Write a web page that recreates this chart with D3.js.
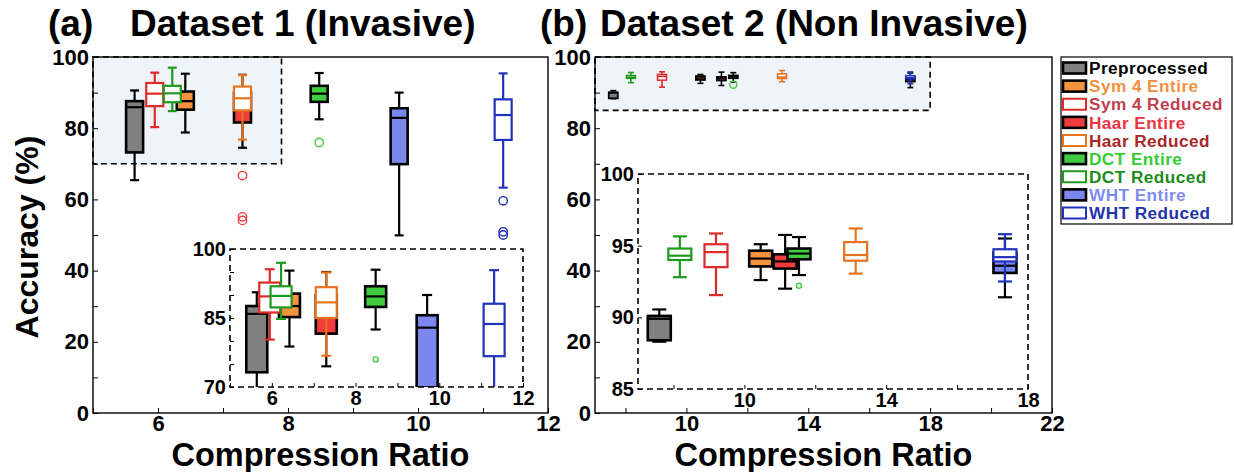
<!DOCTYPE html>
<html>
<head>
<meta charset="utf-8">
<title>Accuracy vs Compression Ratio</title>
<script src="https://cdn.jsdelivr.net/npm/d3@7"></script>
<style>
  body { margin: 0; background: #fff; }
  svg text { font-family: "Liberation Sans", Arial, Helvetica, sans-serif; font-weight: bold; }
</style>
</head>
<body>
<div id="chart"></div>
<script>
// ---- data (legend order = drawing order) ----
const methods = ["Preprocessed", "Sym 4 Entire", "Sym 4 Reduced", "Haar Entire", "Haar Reduced",
                 "DCT Entire", "DCT Reduced", "WHT Entire", "WHT Reduced"];

// dataset 1 (invasive): compression ratio, [low whisker, q1, median, q3, high whisker], outliers
const ratio1 = [5.64, 6.42, 5.95, 7.30, 7.30, 8.48, 6.22, 9.71, 11.31];
const stats1 = [
  [65.4, 73.2, 85.9, 87.6, 90.6],
  [78.8, 85.2, 87.6, 90.3, 95.3],
  [80.3, 86.2, 89.7, 92.7, 95.6],
  [74.5, 81.6, 86.5, 90.0, 95.0],
  [76.8, 85.0, 88.4, 91.7, 94.9],
  [82.5, 87.4, 89.7, 91.9, 95.5],
  [84.8, 87.3, 89.8, 91.9, 97.0],
  [49.9, 69.9, 82.9, 85.6, 90.0],
  [63.3, 76.7, 83.7, 88.1, 95.4]
];
const outliers1 = [[], [], [], [66.7, 55.1, 54.1], [], [76.0], [], [], [59.6, 50.9, 50.0]];

// dataset 2 (non invasive)
const ratio2 = [7.60, 10.46, 9.20, 11.15, 13.14, 11.54, 8.18, 17.35, 17.35];
const stats2 = [
  [88.3, 88.4, 89.9, 90.1, 90.55],
  [92.6, 93.55, 94.1, 94.65, 95.1],
  [91.55, 93.5, 94.55, 95.1, 95.85],
  [92.0, 93.4, 93.9, 94.4, 95.75],
  [93.05, 93.95, 94.35, 95.25, 96.2],
  [92.95, 94.05, 94.45, 94.8, 95.6],
  [92.8, 94.0, 94.3, 94.8, 95.65],
  [91.4, 93.1, 93.6, 94.5, 95.5],
  [92.5, 93.9, 94.2, 94.75, 95.8]
];
const outliers2 = [[], [], [], [], [], [92.2], [], [], []];

// tick labels
const yLabelsMain = [0, 20, 40, 60, 80, 100];
const xLabelsA = [6, 8, 10, 12];
const xLabelsB = [10, 14, 18, 22];
const yLabelsInsetA = [70, 85, 100];
const xLabelsInsetA = [6, 8, 10, 12];
const yLabelsInsetB = [85, 90, 95, 100];
const xLabelsInsetB = [10, 14, 18];

// ---- styles ----
const filled    = [true, true, false, true, false, true, false, true, false];
const fillColor = ["#808080", "#f5923e", "#fff", "#f03c3c", "#fff", "#3fcc3f", "#fff", "#7b86ee", "#fff"];
const edgeColor = ["#000", "#000", "#dd2a2a", "#000", "#e8731e", "#000", "#1f9a1f", "#000", "#2233bb"];
const dotColor  = ["#000", "#f5923e", "#dd2a2a", "#f04040", "#e8731e", "#3fcc3f", "#1f9a1f", "#7b86ee", "#2233bb"];
const textColor = ["#000", "#f39040", "#c0404e", "#ee3340", "#a82828", "#35cc35", "#1a8c1a", "#7f8cf0", "#2233aa"];

const svg = d3.select("#chart").append("svg")
  .attr("width", 1234)
  .attr("height", 472);

const yMainScale = d3.scaleLinear([0, 100], [413, 57]);

function drawBoxes(g, x, y, ratio, stats, outliers, o) {
  methods.forEach((m, i) => {
    const [lo, q1, md, q3, hi] = stats[i];
    const cx = x(ratio[i]);
    const wc = filled[i] ? "#000" : edgeColor[i];
    const b = g.append("g");
    const sw = filled[i] ? o.sw : o.sw * 0.85;
    b.append("line").attr("x1", cx).attr("x2", cx).attr("y1", y(lo)).attr("y2", y(q1))
      .attr("stroke", wc).attr("stroke-width", o.lw);
    b.append("line").attr("x1", cx).attr("x2", cx).attr("y1", y(q3)).attr("y2", y(hi))
      .attr("stroke", wc).attr("stroke-width", o.lw);
    [lo, hi].forEach(v => b.append("line")
      .attr("x1", cx - o.cap / 2).attr("x2", cx + o.cap / 2)
      .attr("y1", y(v)).attr("y2", y(v))
      .attr("stroke", wc).attr("stroke-width", o.lw));
    b.append("rect")
      .attr("x", cx - o.w / 2).attr("width", o.w)
      .attr("y", y(q3)).attr("height", y(q1) - y(q3))
      .attr("fill", fillColor[i]).attr("stroke", edgeColor[i]).attr("stroke-width", sw);
    b.append("line").attr("x1", cx - o.w / 2).attr("x2", cx + o.w / 2)
      .attr("y1", y(md)).attr("y2", y(md))
      .attr("stroke", filled[i] ? "#000" : edgeColor[i]).attr("stroke-width", o.lw);
    outliers[i].forEach(v => b.append("circle")
      .attr("cx", cx).attr("cy", y(v)).attr("r", o.r)
      .attr("fill", "none").attr("stroke", dotColor[i]).attr("stroke-width", 1.4));
  });
}

function styleAxis(g, size) {
  g.attr("font-size", size).attr("font-family", null);
  g.select(".domain").remove();
  g.selectAll(".tick line").attr("stroke", "#000").attr("stroke-width", 1);
  g.selectAll(".tick text").attr("fill", "#000");
}

function axes(g, x, y, o) {
  const [y0] = y.range();
  const [x0] = x.range();
  g.append("g").attr("transform", `translate(0,${y0})`)
    .call(d3.axisBottom(x).tickValues(o.xTicks)
      .tickFormat(d => o.xLabels.includes(d) ? d : "")
      .tickSizeInner(-o.tick).tickSizeOuter(0).tickPadding(o.xpad))
    .call(a => styleAxis(a, o.size));
  g.append("g").attr("transform", `translate(${x0},0)`)
    .call(d3.axisLeft(y).tickValues(o.yTicks)
      .tickFormat(d => o.yLabels.includes(d) ? d : "")
      .tickSizeInner(-o.tick).tickSizeOuter(0).tickPadding(o.pad))
    .call(a => styleAxis(a, o.size));
}

function frame(g, x, y, dashed) {
  const [xa, xb] = x.range();
  const [ya, yb] = y.range();
  g.append("rect")
    .attr("x", xa).attr("y", yb).attr("width", xb - xa).attr("height", ya - yb)
    .attr("fill", "none").attr("stroke", "#000")
    .attr("stroke-width", dashed ? 1.6 : 1.4)
    .attr("stroke-dasharray", dashed ? "6,4" : null);
}

function highlight(g, x, y, xd, yd) {
  g.append("rect")
    .attr("x", x(xd[0])).attr("y", y(yd[1]))
    .attr("width", x(xd[1]) - x(xd[0])).attr("height", y(yd[0]) - y(yd[1]))
    .attr("fill", "#eff4f8").attr("stroke", "#000")
    .attr("stroke-width", 1.6).attr("stroke-dasharray", "6,4");
}

function panel(p) {
  const g = svg.append("g");
  const x = d3.scaleLinear(p.xDomain, p.xRange);
  const y = yMainScale;
  highlight(g, x, y, p.hlX, p.hlY);
  axes(g, x, y, { xTicks: p.xTicks, xLabels: p.xLabels, yTicks: d3.range(0, 101, 10),
                  yLabels: yLabelsMain, tick: 5, pad: 4, xpad: 2, size: 22 });
  drawBoxes(g, x, y, p.ratio, p.stats, p.outliers, p.box);
  frame(g, x, y, false);

  // zoomed inset
  const xi = d3.scaleLinear(p.inXDomain, p.inXRange);
  const yi = d3.scaleLinear(p.inYDomain, p.inYRange);
  const ig = g.append("g");
  ig.append("rect")
    .attr("x", p.inXRange[0]).attr("y", p.inYRange[1])
    .attr("width", p.inXRange[1] - p.inXRange[0]).attr("height", p.inYRange[0] - p.inYRange[1])
    .attr("fill", "#fff");
  const clipId = "clip-" + p.id;
  ig.append("clipPath").attr("id", clipId).append("rect")
    .attr("x", p.inXRange[0]).attr("y", p.inYRange[1])
    .attr("width", p.inXRange[1] - p.inXRange[0]).attr("height", p.inYRange[0] - p.inYRange[1]);
  axes(ig, xi, yi, { xTicks: p.inXTicks, xLabels: p.inXLabels, yTicks: p.inYTicks,
                     yLabels: p.inYLabels, tick: 4, pad: 4, xpad: 4, size: 20 });
  drawBoxes(ig.append("g").attr("clip-path", `url(#${clipId})`), xi, yi,
            p.ratio, p.stats, p.outliers, p.inBox);
  frame(ig, xi, yi, true);

  // titles and axis label
  svg.append("text").attr("x", p.tagX).attr("y", 36).attr("font-size", 37).text(p.tag);
  svg.append("text").attr("x", p.titleX).attr("y", 36).attr("font-size", 37).text(p.title);
  svg.append("text")
    .attr("x", (p.xRange[0] + p.xRange[1]) / 2).attr("y", 466)
    .attr("text-anchor", "middle").attr("font-size", 32.5)
    .text("Compression Ratio");
}

panel({
  id: "a", tag: "(a)", tagX: 48, title: "Dataset 1 (Invasive)", titleX: 130,
  xDomain: [5, 12], xRange: [93, 548], xTicks: d3.range(5, 13, 1), xLabels: xLabelsA,
  hlX: [5, 7.9], hlY: [70, 100],
  ratio: ratio1, stats: stats1, outliers: outliers1,
  box: { w: 17, cap: 9, sw: 2.6, lw: 2.2, r: 4.2 },
  inXDomain: [5, 12], inXRange: [230, 523], inYDomain: [70, 100], inYRange: [387, 249],
  inXTicks: d3.range(5, 13, 1), inXLabels: xLabelsInsetA,
  inYTicks: d3.range(70, 101, 5), inYLabels: yLabelsInsetA,
  inBox: { w: 21, cap: 10, sw: 2.6, lw: 2.2, r: 2.5 }
});

panel({
  id: "b", tag: "(b)", tagX: 540, title: "Dataset 2 (Non Invasive)", titleX: 600,
  xDomain: [7, 22], xRange: [595, 1052], xTicks: d3.range(8, 23, 2), xLabels: xLabelsB,
  hlX: [7, 18], hlY: [85, 100],
  ratio: ratio2, stats: stats2, outliers: outliers2,
  box: { w: 9, cap: 6, sw: 1.8, lw: 1.6, r: 3.5 },
  inXDomain: [7, 18], inXRange: [638, 1028], inYDomain: [85, 100], inYRange: [389, 174],
  inXTicks: d3.range(8, 19, 2), inXLabels: xLabelsInsetB,
  inYTicks: d3.range(85, 101, 5), inYLabels: yLabelsInsetB,
  inBox: { w: 23, cap: 14, sw: 2.6, lw: 2.2, r: 2.5 }
});

// y axis label
svg.append("text")
  .attr("transform", "translate(38,237) rotate(-90)")
  .attr("text-anchor", "middle").attr("font-size", 32)
  .text("Accuracy (%)");

// legend
const legend = svg.append("g");
legend.append("rect")
  .attr("x", 1061).attr("y", 57).attr("width", 171).attr("height", 167)
  .attr("fill", "#fff").attr("stroke", "#000").attr("stroke-width", 1.2);
const rowY = d3.scalePoint(methods, [68, 213]);
methods.forEach((m, i) => {
  const yy = rowY(m);
  legend.append("rect")
    .attr("x", 1063).attr("y", yy - 5.5).attr("width", 23).attr("height", 11)
    .attr("fill", fillColor[i]).attr("stroke", edgeColor[i])
    .attr("stroke-width", filled[i] ? 2.6 : 2);
  legend.append("text")
    .attr("x", 1089).attr("y", yy).attr("dy", "0.36em")
    .attr("font-size", 17.2).attr("letter-spacing", 0.45).attr("fill", textColor[i])
    .text(m);
});
</script>
</body>
</html>
